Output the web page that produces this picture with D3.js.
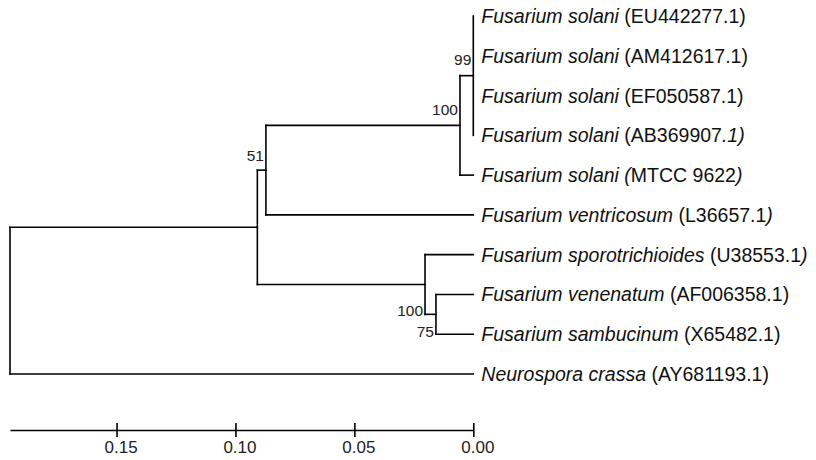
<!DOCTYPE html>
<html>
<head>
<meta charset="utf-8">
<script src="https://cdn.jsdelivr.net/npm/d3@7"></script>
<style>
  html, body { margin: 0; padding: 0; background: #fff; }
  svg { display: block; font-family: "Liberation Sans", Arial, sans-serif; }
</style>
</head>
<body>
<svg id="chart" width="816" height="460"></svg>
<script>
// ---- DATA ----
// leaf labels; text between * toggles italic
const leafLabels = [
  "*Fusarium solani* (EU442277.1)",
  "*Fusarium solani* (AM412617.1)",
  "*Fusarium solani* (EF050587.1)",
  "*Fusarium solani* (AB369907*.1)*",
  "*Fusarium solani (*MTCC 9622*)*",
  "*Fusarium ventricosum* (L36657.1*)*",
  "*Fusarium sporotrichioides* (U38553.1*)*",
  "*Fusarium venenatum* (AF006358.1)",
  "*Fusarium sambucinum* (X65482.1)",
  "*Neurospora crassa* (AY681193.1)"
];
// internal nodes: children are leaf indices (numbers) or node ids (strings)
const nodeIds      = ["n99", "n100a", "n51", "nFus", "n75", "n100b", "root"];
const nodeChildren = [[0, 1, 2, 3], ["n99", 4], ["n100a", 5], ["n51", "n100b"], [7, 8], [6, "n75"], ["nFus", 9]];
const nodeHeights  = [0.0, 0.0056, 0.0872, 0.0908, 0.0157, 0.0203, 0.1948];
const bootstrap    = [99, 100, 51, null, 75, 100, null];
const scaleTicks   = [0.15, 0.10, 0.05, 0.00];

// ---- LAYOUT / STYLE ----
const bootDy = { n99: -16, n100a: -16, n51: -15, n75: 17, n100b: 26 };
const svg = d3.select("#chart");
const x = d3.scaleLinear().domain([d3.max(nodeHeights), 0]).range([10, 473.3]);
const y = d3.scalePoint().domain(d3.range(leafLabels.length)).range([16, 374]);
const lineColor = "#000", lw = 1.6;

function build(id) {
  if (typeof id === "number") return { name: id, leaf: true, height: 0 };
  const i = nodeIds.indexOf(id);
  return { name: id, leaf: false, height: nodeHeights[i], boot: bootstrap[i],
           children: nodeChildren[i].map(build) };
}
const root = d3.hierarchy(build("root"));
root.eachAfter(n => {
  n.px = x(n.data.height);
  if (n.data.leaf) n.py = y(n.data.name);
  else n.py = (n.children[0].py + n.children[n.children.length - 1].py) / 2;
});

const g = svg.append("g");
root.descendants().filter(n => n.children).forEach(n => {
  const first = n.children[0], last = n.children[n.children.length - 1];
  g.append("line").attr("x1", n.px).attr("x2", n.px)
    .attr("y1", first.py).attr("y2", last.py)
    .attr("stroke", lineColor).attr("stroke-width", lw).attr("stroke-linecap", "square");
  n.children.forEach(c => {
    if (c.px - n.px > 0.01)
      g.append("line").attr("x1", n.px).attr("x2", c.px)
        .attr("y1", c.py).attr("y2", c.py)
        .attr("stroke", lineColor).attr("stroke-width", lw).attr("stroke-linecap", "square");
  });
});

root.leaves().forEach(n => {
  const t = g.append("text").attr("x", n.px + 8).attr("y", n.py)
    .attr("dy", "0.36em").attr("font-size", 19.5).attr("fill", "#111");
  const parts = leafLabels[n.data.name].split("*");
  parts.forEach((p, i) => {
    if (!p) return;
    t.append("tspan").attr("font-style", i % 2 === 1 ? "italic" : "normal").text(p);
  });
});

root.descendants().filter(n => n.children && n.data.boot != null).forEach(n => {
  g.append("text").attr("x", n.px - 2)
    .attr("y", n.py + bootDy[n.data.name])
    .attr("dy", "0.36em").attr("text-anchor", "end")
    .attr("font-size", 15.5).attr("fill", "#222").text(n.data.boot);
});

const axis = d3.axisBottom(x).tickValues(scaleTicks).tickFormat(d3.format(".2f"))
  .tickSizeInner(7).tickSizeOuter(0).tickPadding(4);
const ax = svg.append("g").attr("transform", "translate(0,430)").call(axis);
ax.select(".domain").attr("stroke", lineColor).attr("stroke-width", lw);
ax.selectAll(".tick line").attr("y1", -7).attr("y2", 7).attr("stroke-width", lw);
ax.selectAll(".tick text").attr("font-size", 17).attr("font-family", "Liberation Sans, Arial, sans-serif")
  .attr("fill", "#222").attr("dx", 4);
</script>
</body>
</html>
